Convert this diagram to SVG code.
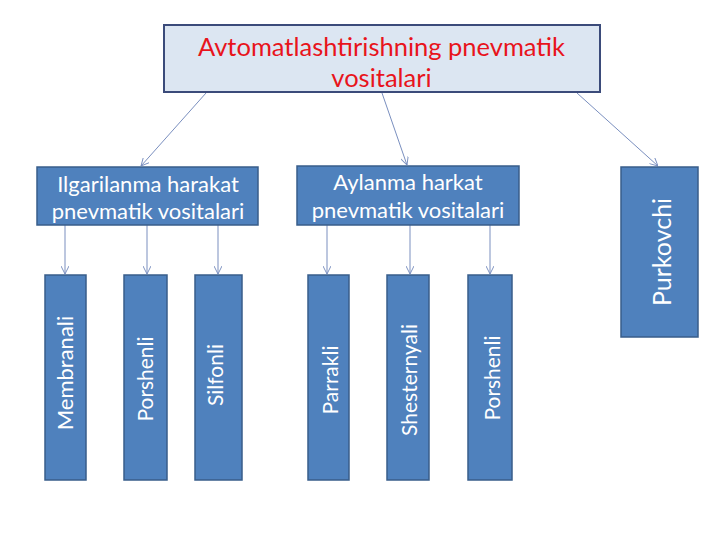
<svg xmlns="http://www.w3.org/2000/svg" width="720" height="540" viewBox="0 0 720 540">
<defs>
<style>
.box{fill:#4f81bd;stroke:#385d8a;stroke-width:1.5}
.top{fill:#dce6f2;stroke:#3b4b7a;stroke-width:2}
.t{font-family:Lato,"Open Sans",sans-serif;fill:#ffffff;text-anchor:middle}
.v{font-size:21px}
.title{font-family:Lato,"Open Sans",sans-serif;fill:#e8141c;text-anchor:middle;font-size:25.5px}
.c{fill:none;stroke:#7a8fbf;stroke-width:1;marker-end:url(#ah)}
</style>
<marker id="ah" viewBox="0 0 10 10" refX="10" refY="5" markerWidth="8" markerHeight="8" markerUnits="userSpaceOnUse" orient="auto">
<path d="M0,0 L10,5 L0,10" fill="none" stroke="#7a8fbf" stroke-width="1.2"/>
</marker>
</defs>
<rect width="720" height="540" fill="#ffffff"/>
<g id="connectors">
<line class="c" x1="206" y1="93" x2="141" y2="166"/>
<line class="c" x1="382" y1="93" x2="407" y2="165"/>
<line class="c" x1="577" y1="93" x2="658" y2="166"/>
<line class="c" x1="65" y1="225" x2="65" y2="274"/>
<line class="c" x1="147" y1="225" x2="147" y2="274"/>
<line class="c" x1="218" y1="225" x2="218" y2="274"/>
<line class="c" x1="327" y1="225" x2="327" y2="274"/>
<line class="c" x1="410" y1="225" x2="410" y2="274"/>
<line class="c" x1="490" y1="225" x2="490" y2="274"/>
</g>
<g id="top">
<rect class="top" x="164" y="25" width="436" height="67"/>
<text class="title" x="381.5" y="56">Avtomatlashtirishning pnevmatik</text>
<text class="title" x="381.5" y="87">vositalari</text>
</g>
<g id="ilgarilanma">
<rect class="box" x="37" y="167" width="221" height="58"/>
<text class="t" x="148" y="192" font-size="22">Ilgarilanma harakat</text>
<text class="t" x="148" y="219" font-size="22">pnevmatik vositalari</text>
</g>
<g id="aylanma">
<rect class="box" x="297" y="166" width="222" height="59"/>
<text class="t" x="408" y="190" font-size="22">Aylanma harkat</text>
<text class="t" x="408" y="218" font-size="22">pnevmatik vositalari</text>
</g>
<g id="purkovchi">
<rect class="box" x="621" y="167" width="77" height="170"/>
<text class="t" font-size="25" transform="translate(671,252) rotate(-90)">Purkovchi</text>
</g>
<g id="membranali">
<rect class="box" x="45" y="275" width="41" height="205"/>
<text class="t" font-size="22" transform="translate(73,373) rotate(-90)">Membranali</text>
</g>
<g id="porshenli1">
<rect class="box" x="124" y="275" width="43" height="205"/>
<text class="t v" transform="translate(153,379) rotate(-90)">Porshenli</text>
</g>
<g id="silfonli">
<rect class="box" x="195" y="275" width="47" height="205"/>
<text class="t v" transform="translate(223,375) rotate(-90)">Silfonli</text>
</g>
<g id="parrakli">
<rect class="box" x="308" y="275" width="41" height="205"/>
<text class="t v" transform="translate(338,380) rotate(-90)">Parrakli</text>
</g>
<g id="shesternyali">
<rect class="box" x="387" y="275" width="42" height="205"/>
<text class="t v" transform="translate(417,380) rotate(-90)">Shesternyali</text>
</g>
<g id="porshenli2">
<rect class="box" x="468" y="275" width="44" height="205"/>
<text class="t v" transform="translate(500,378) rotate(-90)">Porshenli</text>
</g>
</svg>
